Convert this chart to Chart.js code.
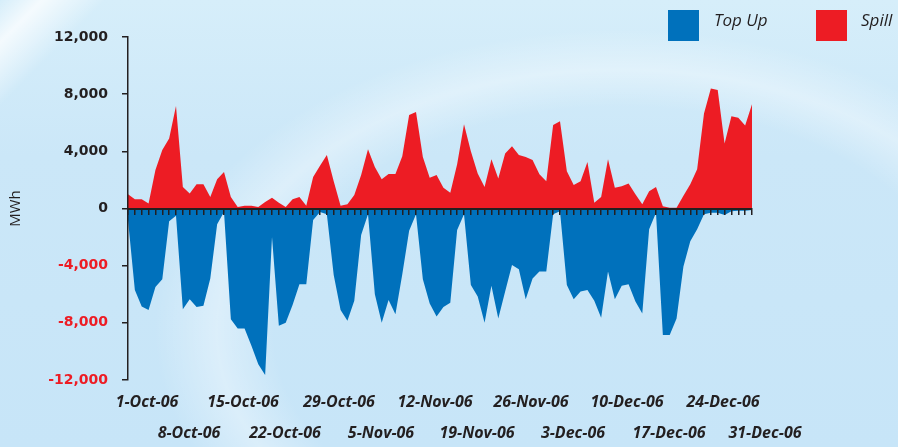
<!DOCTYPE html>
<html>
<head>
<meta charset="utf-8">
<script src="https://cdn.jsdelivr.net/npm/chart.js"></script>
<style>
    body { margin: 0; }
    #wrap {
        position: relative;
        width: 898px;
        height: 447px;
        overflow: hidden;
        background:
            linear-gradient(135deg, rgba(255,255,255,0) 0px, rgba(255,255,255,0.75) 30px, rgba(255,255,255,0) 75px),
            radial-gradient(ellipse 480px 310px at 620px 330px, rgba(255,255,255,0) 72%, rgba(255,255,255,0.35) 84%, rgba(255,255,255,0) 97%),
            linear-gradient(to bottom, #d6eefa 0%, #cbe7f8 35%, #c7e5f8 100%);
    }
    canvas { position: absolute; left: 0; top: 0; }
    .legend {
        position: absolute;
        top: 10px;
        font: italic 17px "Open Sans", sans-serif;
        color: #231f20;
    }
    .legend .box { position: absolute; top: 0; width: 31px; height: 31px; }
    .legend .txt { position: absolute; top: -2px; white-space: nowrap; }
</style>
</head>
<body>
<div id="wrap">
    <canvas id="flowChart" width="898" height="447"></canvas>
    <div class="legend" style="left:668px">
        <div class="box" style="background:#0071bc"></div>
        <div class="txt" style="left:46px">Top Up</div>
    </div>
    <div class="legend" style="left:816px">
        <div class="box" style="background:#ed1c24"></div>
        <div class="txt" style="left:45px">Spill</div>
    </div>
</div>
<script>
const BLUE = '#0071bc';
const RED = '#ed1c24';
const DARK = '#231f20';

// one label per week, alternating between the two rows
const weekLabels = ['1-Oct-06', '8-Oct-06', '15-Oct-06', '22-Oct-06', '29-Oct-06', '5-Nov-06', '12-Nov-06',
    '19-Nov-06', '26-Nov-06', '3-Dec-06', '10-Dec-06', '17-Dec-06', '24-Dec-06', '31-Dec-06'];

const yTicks = [-12000, -8000, -4000, 0, 4000, 8000, 12000];

// daily values, 1 Oct - 31 Dec 2006 (MWh)
const spill = [
    1000, 650, 650, 350, 2700, 4100, 4900, 7170, 1500, 1050,
    1700, 1700, 800, 2050, 2550, 800, 100, 200, 200, 100,
    450, 750, 400, 100, 650, 800, 200, 2200, 3000, 3750,
    1900, 200, 300, 950, 2350, 4150, 2900, 2050, 2420, 2420,
    3650, 6550, 6750, 3600, 2150, 2350, 1450, 1100, 3100, 5900,
    4000, 2450, 1500, 3450, 2100, 3850, 4350, 3750, 3600, 3400,
    2400, 1900, 5850, 6100, 2600, 1650, 1900, 3250, 400, 800,
    3450, 1450, 1550, 1750, 1000, 300, 1200, 1500, 150, 50,
    50, 900, 1700, 2750, 6650, 8400, 8300, 4550, 6450, 6350,
    5800, 7300
];

const topUp = [
    -800, -5700, -6850, -7100, -5500, -4950, -900, -500, -7050, -6350,
    -6900, -6800, -4900, -1100, -250, -7750, -8400, -8400, -9600, -10900,
    -11650, -2000, -8200, -8000, -6750, -5300, -5300, -800, -250, -400,
    -4650, -7100, -7850, -6450, -1850, -400, -6000, -8000, -6400, -7400,
    -4600, -1550, -400, -4950, -6650, -7550, -6900, -6600, -1500, -400,
    -5350, -6150, -8000, -5400, -7700, -5800, -3950, -4250, -6350, -4900,
    -4400, -4400, -400, -200, -5350, -6350, -5800, -5700, -6450, -7650,
    -4400, -6350, -5400, -5300, -6500, -7350, -1450, -300, -8850, -8850,
    -7700, -4050, -2300, -1450, -400, -300, -300, -450, -200, -150,
    -150, -100
];

// day labels for the category axes
const months = ['Jan','Feb','Mar','Apr','May','Jun','Jul','Aug','Sep','Oct','Nov','Dec'];
const days = [];
for (let i = 0; i < spill.length; i++) {
    const d = new Date(2006, 9, 1 + i);
    days.push(d.getDate() + '-' + months[d.getMonth()] + '-06');
}

const labelFont = { family: '"Open Sans", sans-serif', size: 16, weight: 'bold', style: 'italic' };

function rowAxis(row, offset) {
    return {
        type: 'category',
        labels: days,
        position: 'bottom',
        offset: false,
        afterFit: s => { s.height = 31; },
        grid: { display: false, drawTicks: false },
        border: { display: false },
        ticks: {
            autoSkip: false,
            maxRotation: 0,
            padding: 13,
            labelOffset: offset,
            color: DARK,
            font: labelFont,
            callback: (val, i) => (i % 14 === row * 7 ? weekLabels[i / 7] : '')
        }
    };
}

new Chart(document.getElementById('flowChart'), {
    type: 'line',
    data: {
        labels: days,
        datasets: [
            {
                label: 'Top Up',
                data: topUp,
                backgroundColor: BLUE,
                borderWidth: 0,
                pointRadius: 0,
                tension: 0,
                fill: 'origin'
            },
            {
                label: 'Spill',
                data: spill,
                backgroundColor: RED,
                borderWidth: 0,
                pointRadius: 0,
                tension: 0,
                fill: 'origin'
            }
        ]
    },
    options: {
        responsive: false,
        animation: false,
        layout: { padding: { left: 0, right: 146, top: 37, bottom: 5 } },
        plugins: {
            legend: { display: false },
            tooltip: { enabled: false }
        },
        scales: {
            // zero line with daily tick marks
            x: {
                position: { y: 0 },
                offset: false,
                grid: { drawOnChartArea: false, tickLength: 5, color: DARK, lineWidth: 1.5, z: 1 },
                border: { color: DARK, width: 2, z: 1 },
                ticks: { display: false, autoSkip: false }
            },
            xTop: rowAxis(0, 19),
            xBottom: rowAxis(1, 13),
            y: {
                min: -12000,
                max: 12000,
                afterFit: s => { s.width = 128; },
                afterBuildTicks: s => { s.ticks = yTicks.map(v => ({ value: v })); },
                grid: { drawOnChartArea: false, tickLength: 6, color: DARK, lineWidth: 1.5, z: 1 },
                border: { color: DARK, width: 1.5, z: 1 },
                ticks: {
                    padding: 14,
                    color: ctx => (ctx.tick.value < 0 ? RED : DARK),
                    font: { family: '"DejaVu Sans", sans-serif', size: 14, weight: 'bold' },
                    callback: v => v.toLocaleString('en-US')
                },
                title: {
                    display: true,
                    text: 'MWh',
                    color: DARK,
                    padding: { top: 7, bottom: 0 },
                    font: { family: '"Open Sans", sans-serif', size: 15 }
                }
            }
        }
    }
});
</script>
</body>
</html>
